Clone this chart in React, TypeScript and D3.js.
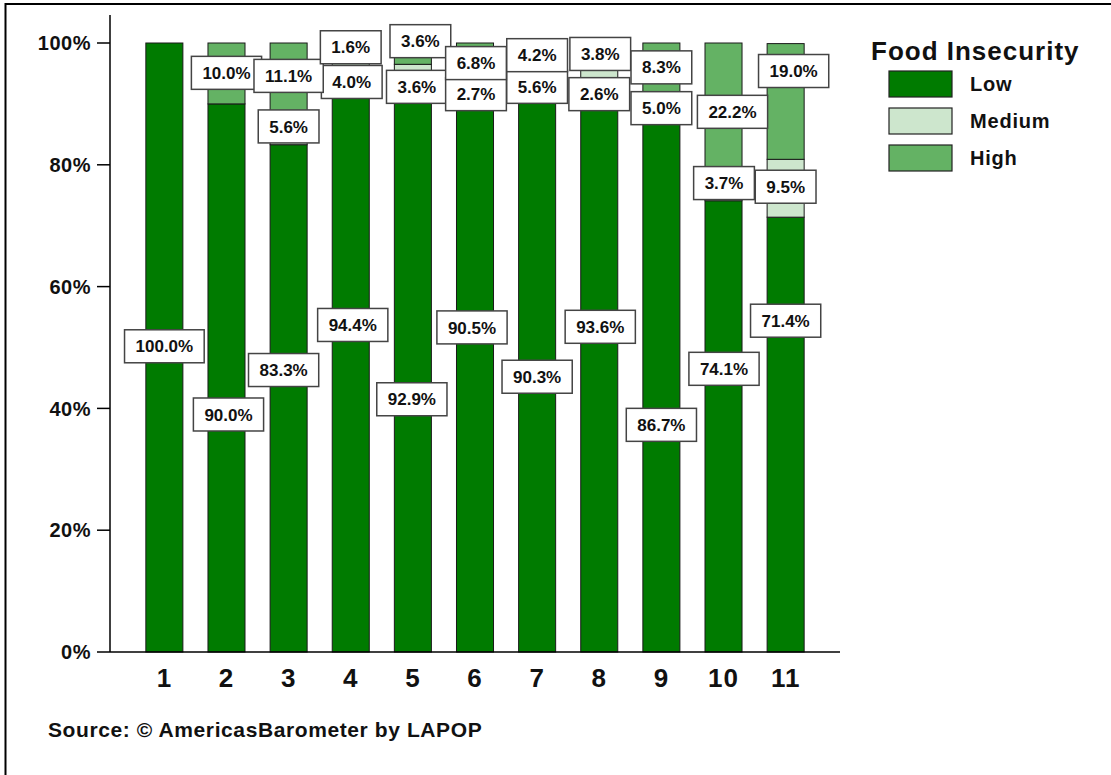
import React from 'react';
import * as d3 from 'd3';

// ---- Data ----
const categories = ['1', '2', '3', '4', '5', '6', '7', '8', '9', '10', '11'];
const lowValues = [100.0, 90.0, 83.3, 94.4, 92.9, 90.5, 90.3, 93.6, 86.7, 74.1, 71.4];
const mediumValues = [0, 0, 5.6, 4.0, 3.6, 2.7, 5.6, 2.6, 5.0, 3.7, 9.5];
const highValues = [0, 10.0, 11.1, 1.6, 3.6, 6.8, 4.2, 3.8, 8.3, 22.2, 19.0];
const seriesKeys = ['Low', 'Medium', 'High'];
const yTicks = [0, 20, 40, 60, 80, 100];

// label anchor heights (in % units, as placed by the original repelled labels)
const lowLabelAt = [50.2, 39.0, 46.3, 53.7, 41.5, 53.3, 45.2, 53.4, 37.3, 46.5, 54.4];
const mediumLabelAt = [0, 0, 86.3, 93.6, 92.8, 91.6, 92.8, 91.6, 89.3, 77.0, 76.4];
const highLabelAt = [0, 95.1, 94.6, 99.3, 100.3, 96.7, 98.0, 98.2, 96.0, 88.7, 95.4];
// horizontal nudges of labels (px)
const lowNudge = [0, 2, -5, 2, -1, -3, 0, 1, 0, 0.5, 0];
const mediumNudge = [0, 0, 0, 1, 4, 1, 0, 0, 0, 0.5, 0];
const highNudge = [0, 0, 0, 0, 7.5, 1, 0, 1, 0, 9, 8];

const colors: Record<string, string> = { Low: '#007b00', Medium: '#cde6cd', High: '#64b264' };
const FONT = '"Liberation Sans", Arial, Helvetica, sans-serif';

let ctx: CanvasRenderingContext2D | null = null;
function measure(text: string, size: number): number {
  if (!ctx) ctx = document.createElement('canvas').getContext('2d');
  if (!ctx) return text.length * size * 0.6;
  ctx.font = `bold ${size}px ${FONT}`;
  return ctx.measureText(text).width;
}

export default function App() {
  const W = 1111, H = 775;
  const x = d3.scaleBand<string>().domain(categories).range([110, 840]).paddingInner(0.404).paddingOuter(0.577);
  const y = d3.scaleLinear().domain([0, 100]).range([652, 43]);

  const rows = categories.map((c, i) => ({ cat: c, Low: lowValues[i], Medium: mediumValues[i], High: highValues[i] }));
  const stacked = d3.stack<any>().keys(seriesKeys)(rows);

  const labelSets = [
    { vals: lowValues, at: lowLabelAt, nudge: lowNudge },
    { vals: mediumValues, at: mediumLabelAt, nudge: mediumNudge },
    { vals: highValues, at: highLabelAt, nudge: highNudge },
  ];
  const labelSize = 17;

  return (
    <svg width={W} height={H} style={{ position: 'absolute', left: 0, top: 0, background: '#fff' }} fontFamily={FONT} fontWeight="bold">
      <rect x={0} y={0} width={W} height={H} fill="#fff" />
      {/* frame */}
      <line x1={5.5} x2={5.5} y1={3} y2={H} stroke="#000" strokeWidth={2} />
      <line x1={5} x2={W} y1={4} y2={4} stroke="#000" strokeWidth={2} />

      {/* bars */}
      {stacked.map((s) => (
        <g key={s.key}>
          {s.map((d, i) => {
            const h = y(d[0]) - y(d[1]);
            if (h <= 0.01) return null;
            return (
              <rect key={i} x={x(categories[i])} y={y(d[1])} width={x.bandwidth()} height={h}
                fill={colors[s.key]} stroke="#1a1a1a" strokeWidth={1} />
            );
          })}
        </g>
      ))}

      {/* axes */}
      <line x1={110} x2={110} y1={15} y2={652} stroke="#000" strokeWidth={1.5} />
      <line x1={110} x2={840} y1={652} y2={652} stroke="#000" strokeWidth={1.5} />
      {yTicks.map((t) => (
        <g key={t}>
          <line x1={97} x2={110} y1={y(t)} y2={y(t)} stroke="#000" strokeWidth={1.5} />
          <text x={91} y={y(t)} dy="0.36em" textAnchor="end" fontSize={20} letterSpacing={0.5} fill="#111">{t}%</text>
        </g>
      ))}
      {categories.map((c) => (
        <text key={c} x={(x(c) as number) + x.bandwidth() / 2} y={687} textAnchor="middle" fontSize={26} letterSpacing={1} fill="#111">{c}</text>
      ))}

      {/* labels */}
      {labelSets.map((ls, k) => (
        <g key={k}>
          {ls.vals.map((v, i) => {
            if (!v) return null;
            const txt = `${v.toFixed(1)}%`;
            const tw = measure(txt, labelSize);
            const bw = tw + 22, bh = 33;
            const cx = (x(categories[i]) as number) + x.bandwidth() / 2 + ls.nudge[i];
            const cy = y(ls.at[i]);
            return (
              <g key={i}>
                <rect x={cx - bw / 2} y={cy - bh / 2} width={bw} height={bh} fill="#fff" stroke="#444" strokeWidth={1.5} />
                <text x={cx} y={cy} dy="0.36em" textAnchor="middle" fontSize={labelSize} fill="#111">{txt}</text>
              </g>
            );
          })}
        </g>
      ))}

      {/* legend */}
      <text x={871} y={60} fontSize={26} letterSpacing={1} fill="#111">Food Insecurity</text>
      {seriesKeys.map((k, i) => (
        <g key={k}>
          <rect x={889} y={71 + i * 37} width={63} height={26} fill={colors[k]} stroke="#222" strokeWidth={1.2} />
          <text x={970} y={84 + i * 37} dy="0.36em" fontSize={20} letterSpacing={0.8} fill="#111">{k}</text>
        </g>
      ))}

      <text x={48} y={737} fontSize={21} letterSpacing={0.6} fill="#111">Source: © AmericasBarometer by LAPOP</text>
    </svg>
  );
}
